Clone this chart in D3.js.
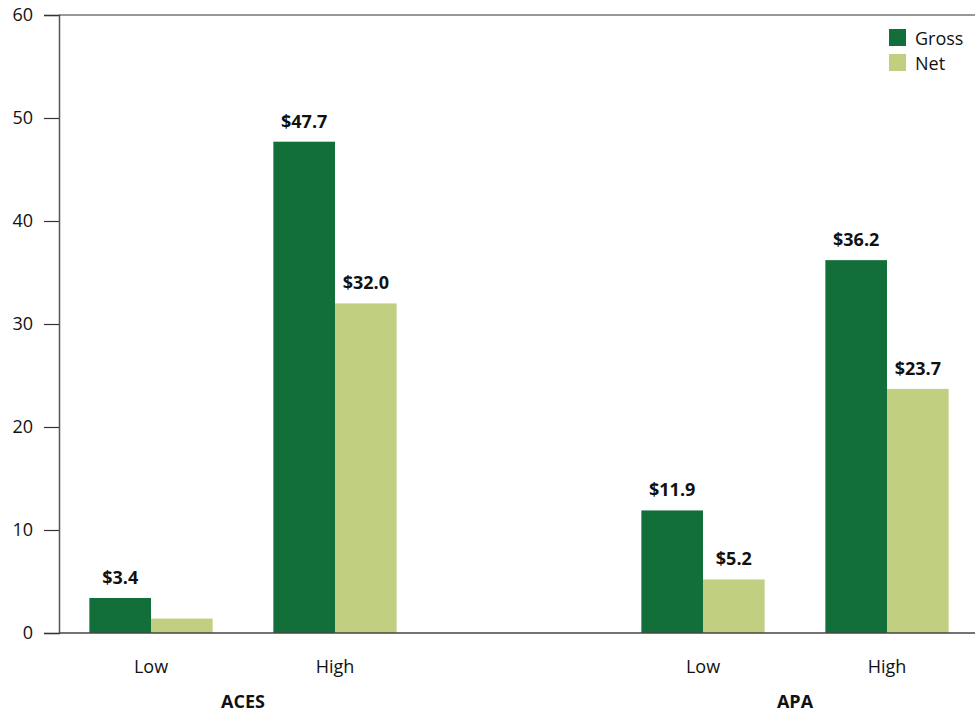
<!DOCTYPE html>
<html>
<head>
<meta charset="utf-8">
<script src="https://cdn.jsdelivr.net/npm/d3@7"></script>
<style>
  body { margin: 0; background: #fff; }
  text { font-family: "Open Sans", "DejaVu Sans", sans-serif; fill: #111; }
</style>
</head>
<body>
<div id="chart"></div>
<script>
// data
var groups = ["ACES", "APA"];
var levels = ["Low", "High"];
var series = ["Gross", "Net"];
var grossValues = [3.4, 47.7, 11.9, 36.2];
var netValues = [1.4, 32.0, 5.2, 23.7];
var showNetLabel = [false, true, true, true];
var yTicks = [0, 10, 20, 30, 40, 50, 60];

var width = 975, height = 717;
var margin = { top: 15, right: -5, bottom: 84, left: 59 };

var svg = d3.select("#chart")
    .append("svg")
    .attr("width", width)
    .attr("height", height);

// slots: ACES Low, ACES High, spacer, APA Low, APA High
var slots = [];
groups.forEach(function (g, gi) {
    if (gi > 0) slots.push("gap" + gi);
    levels.forEach(function (l) { slots.push(g + "|" + l); });
});

var rows = [];
groups.forEach(function (g, gi) {
    levels.forEach(function (l, li) {
        var i = gi * levels.length + li;
        rows.push({ group: g, level: l, key: g + "|" + l, Gross: grossValues[i], Net: netValues[i], netLabel: showNetLabel[i] });
    });
});

var x = d3.scaleBand()
    .domain(slots)
    .range([margin.left, width - margin.right - 1]);

var xSub = d3.scaleBand()
    .domain(series)
    .range([-x.bandwidth() * 0.335, x.bandwidth() * 0.335]);

var y = d3.scaleLinear()
    .domain([0, 60])
    .range([height - margin.bottom, margin.top]);

var color = d3.scaleOrdinal()
    .domain(series)
    .range(["#136f3a", "#c1cf81"]);

// bars
var bar = svg.append("g")
    .selectAll("g")
    .data(rows)
    .enter().append("g")
    .attr("transform", function (d) { return "translate(" + (x(d.key) + x.bandwidth() / 2) + ",0)"; });

bar.selectAll("rect")
    .data(function (d) { return series.map(function (s) { return { s: s, v: d[s] }; }); })
    .enter().append("rect")
    .attr("x", function (d) { return xSub(d.s); })
    .attr("width", xSub.bandwidth())
    .attr("y", function (d) { return y(d.v); })
    .attr("height", function (d) { return y(0) - y(d.v); })
    .attr("fill", function (d) { return color(d.s); });

// value labels
bar.selectAll("text.val")
    .data(function (d) {
        var out = [{ s: "Gross", v: d.Gross }];
        if (d.netLabel) out.push({ s: "Net", v: d.Net });
        return out;
    })
    .enter().append("text")
    .attr("class", "val")
    .attr("x", function (d) { return xSub(d.s) + xSub.bandwidth() / 2; })
    .attr("y", function (d) { return y(d.v) - 14; })
    .attr("text-anchor", "middle")
    .attr("font-size", 18)
    .attr("font-weight", "bold")
    .text(function (d) { return "$" + d.v.toFixed(1); });

// y axis
var yAxis = svg.append("g")
    .attr("transform", "translate(" + margin.left + ",0)")
    .call(d3.axisLeft(y).tickValues(yTicks).tickSize(15).tickPadding(11));
yAxis.select(".domain").attr("stroke", "#555").attr("stroke-width", 1.5);
yAxis.selectAll(".tick line").attr("stroke", "#333").attr("stroke-width", 1.2);
yAxis.selectAll(".tick text")
    .attr("font-size", 18)
    .attr("font-family", "'Open Sans', sans-serif")
    .attr("fill", "#111");

// top frame line and baseline
svg.append("line")
    .attr("x1", margin.left).attr("x2", width)
    .attr("y1", y(60)).attr("y2", y(60))
    .attr("stroke", "#333").attr("stroke-width", 1.2);
svg.append("line")
    .attr("x1", margin.left).attr("x2", width)
    .attr("y1", y(0)).attr("y2", y(0))
    .attr("stroke", "#444").attr("stroke-width", 1.5);

// category labels
svg.append("g").selectAll("text")
    .data(rows)
    .enter().append("text")
    .attr("x", function (d) { return x(d.key) + x.bandwidth() / 2; })
    .attr("y", y(0) + 40)
    .attr("text-anchor", "middle")
    .attr("font-size", 18)
    .text(function (d) { return d.level; });

svg.append("g").selectAll("text")
    .data(groups)
    .enter().append("text")
    .attr("x", function (g) {
        var a = x(g + "|" + levels[0]), b = x(g + "|" + levels[levels.length - 1]) + x.bandwidth();
        return (a + b) / 2;
    })
    .attr("y", y(0) + 75)
    .attr("text-anchor", "middle")
    .attr("font-size", 18)
    .attr("font-weight", "bold")
    .text(function (g) { return g; });

// legend
var legend = svg.append("g")
    .attr("transform", "translate(889,29)")
    .selectAll("g")
    .data(series)
    .enter().append("g")
    .attr("transform", function (d, i) { return "translate(0," + i * 25 + ")"; });

legend.append("rect")
    .attr("width", 17)
    .attr("height", 17)
    .attr("fill", color);

legend.append("text")
    .attr("x", 26)
    .attr("y", 16)
    .attr("font-size", 18)
    .text(function (d) { return d; });
</script>
</body>
</html>
